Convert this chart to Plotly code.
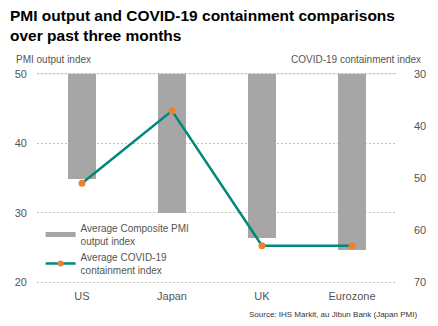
import plotly.graph_objects as go

# Average values over the past three months
regions = ["US", "Japan", "UK", "Eurozone"]
pmi_output = [34.9, 29.9, 26.4, 24.7]          # left axis, bars hang from 50
containment = [51.0, 37.1, 63.0, 63.0]         # right axis (reversed)

PMI_TOP = 50
PMI_BOTTOM = 20
left_ticks = [20, 30, 40, 50]
right_ticks = [30, 40, 50, 60, 70]

BAR_GREY = "#A6A6A6"
TEAL = "#00897B"
ORANGE = "#F0802F"
TXT = "#555555"
GRID = "#c4c4c4"
FONT = "Liberation Sans, Arial, sans-serif"

fig = go.Figure()

fig.add_trace(go.Bar(
    x=regions,
    y=[v - PMI_TOP for v in pmi_output],
    base=[PMI_TOP] * len(regions),
    marker=dict(color=BAR_GREY, line=dict(width=0)),
    width=0.31,
    showlegend=False,
    hoverinfo="skip",
))

fig.add_trace(go.Scatter(
    x=regions,
    y=containment,
    yaxis="y2",
    mode="lines+markers",
    line=dict(color=TEAL, width=2.5),
    marker=dict(color=ORANGE, size=7),
    showlegend=False,
))

# Legend entries: a thick grey stroke for the bars and the line+marker glyph
fig.add_trace(go.Scatter(
    x=[None], y=[None], mode="lines",
    line=dict(color=BAR_GREY, width=5),
    name="Average Composite PMI<br>output index",
))
fig.add_trace(go.Scatter(
    x=[None], y=[None], mode="lines+markers",
    line=dict(color=TEAL, width=2.5),
    marker=dict(color=ORANGE, size=6),
    name="Average COVID-19<br>containment index",
))

# small padding so the end gridlines are kept inside the plot area
pad_l = 0.25
pad_r = pad_l * 40 / 30

fig.update_layout(
    width=438, height=326,
    margin=dict(l=37, r=37, t=72, b=42),
    paper_bgcolor="white", plot_bgcolor="white",
    font=dict(family=FONT, color=TXT, size=11),
    bargap=0,
    xaxis=dict(
        showgrid=False, showline=False, ticks="",
        tickfont=dict(size=11, color=TXT),
        range=[-0.5, 3.5], ticklabelstandoff=4,
    ),
    yaxis=dict(
        range=[PMI_BOTTOM - pad_l, PMI_TOP + pad_l], tickvals=left_ticks,
        showgrid=True, gridcolor=GRID, griddash="2px,2px", gridwidth=1,
        zeroline=False, showline=False, ticks="",
        tickfont=dict(size=11, color=TXT), ticklabelstandoff=9,
    ),
    yaxis2=dict(
        overlaying="y", side="right",
        range=[70 + pad_r, 30 - pad_r], tickvals=right_ticks,
        showgrid=False, zeroline=False, showline=False, ticks="",
        tickfont=dict(size=11, color=TXT), ticklabelstandoff=16,
    ),
    legend=dict(
        x=0.01, y=0.325, xanchor="left", yanchor="top",
        bgcolor="rgba(0,0,0,0)",
        font=dict(size=10, color=TXT),
        itemwidth=30, tracegroupgap=4,
    ),
    showlegend=True,
)

# Solid rule at the top of the PMI scale
fig.add_shape(type="line", xref="paper", yref="y", x0=0, x1=1,
              y0=PMI_TOP, y1=PMI_TOP, layer="below",
              line=dict(color="#dcdcdc", width=1))

fig.add_annotation(
    text="<b>PMI output and COVID-19 containment comparisons<br>over past three months</b>",
    xref="paper", yref="paper",
    x=-0.08, y=1.315, xanchor="left", yanchor="top", align="left",
    showarrow=False, font=dict(size=15.5, color="#000000", family=FONT),
)
fig.add_annotation(
    text="PMI output index", xref="paper", yref="paper",
    x=-0.063, y=1.022, xanchor="left", yanchor="bottom",
    showarrow=False, font=dict(size=10, color=TXT),
)
fig.add_annotation(
    text="COVID-19 containment index", xref="paper", yref="paper",
    x=1.072, y=1.022, xanchor="right", yanchor="bottom",
    showarrow=False, font=dict(size=10, color=TXT),
)
fig.add_annotation(
    text="Source: IHS Markit, au Jibun Bank (Japan PMI)",
    xref="paper", yref="paper",
    x=1.06, y=-0.115, xanchor="right", yanchor="top",
    showarrow=False, font=dict(size=8, color="#333333"),
)

fig.write_html("out.html")
